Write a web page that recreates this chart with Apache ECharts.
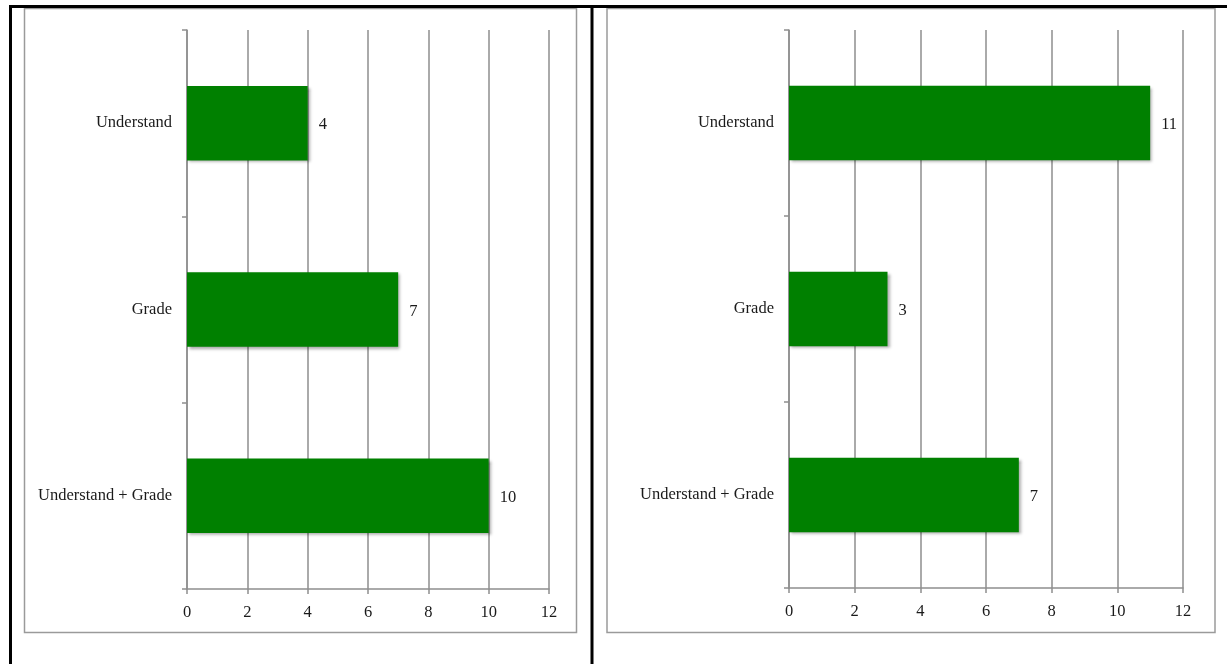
<!DOCTYPE html>
<html>
<head>
<meta charset="utf-8">
<script src="https://cdn.jsdelivr.net/npm/echarts@6/dist/echarts.min.js"></script>
<style>
  html, body { margin: 0; padding: 0; background: #fff; }
  #main { width: 1227px; height: 664px; }
</style>
</head>
<body>
<div id="main"></div>
<script>
// categories, top to bottom
var categories = ['Understand', 'Grade', 'Understand + Grade'];
var leftValues = [4, 7, 10];
var rightValues = [11, 3, 7];
var xTicks = { min: 0, max: 12, interval: 2 };

var chart = echarts.init(document.getElementById('main'));

var gray = '#8e8e8e';
var textColor = '#1a1a1a';
var font = '"Liberation Serif", serif';
var fontSize = 16.5;

function makeX(gridIndex) {
  return {
    type: 'value',
    gridIndex: gridIndex,
    min: xTicks.min,
    max: xTicks.max,
    interval: xTicks.interval,
    axisLine: { show: true, lineStyle: { color: gray, width: 1.5 } },
    axisTick: { show: true, length: 5, lineStyle: { color: gray, width: 1.5 } },
    axisLabel: { color: textColor, fontFamily: font, fontSize: fontSize, margin: 15 },
    splitLine: { show: true, lineStyle: { color: gray, width: 1.5 } }
  };
}

function makeY(gridIndex) {
  return {
    type: 'category',
    gridIndex: gridIndex,
    data: categories,
    inverse: true,
    axisLine: { show: true, lineStyle: { color: gray, width: 1.5 } },
    axisTick: { show: true, length: 5, lineStyle: { color: gray, width: 1.5 } },
    axisLabel: {
      color: textColor, fontFamily: font, fontSize: fontSize, margin: 15,
      padding: [6, 0, 0, 0]
    }
  };
}

function makeSeries(idx, values) {
  return {
    type: 'bar',
    xAxisIndex: idx,
    yAxisIndex: idx,
    data: values,
    barCategoryGap: '60%',
    itemStyle: {
      color: '#008000',
      shadowColor: 'rgba(0,0,0,0.35)',
      shadowBlur: 3,
      shadowOffsetX: 2,
      shadowOffsetY: 2
    },
    label: {
      show: true,
      position: 'right',
      distance: 11,
      offset: [0, 2],
      color: textColor,
      fontFamily: font,
      fontSize: fontSize
    }
  };
}

var option = {
  animation: false,
  backgroundColor: '#fff',
  grid: [
    { left: 187, top: 30, width: 362, height: 559 },
    { left: 789, top: 30, width: 394, height: 558 }
  ],
  xAxis: [makeX(0), makeX(1)],
  yAxis: [makeY(0), makeY(1)],
  series: [makeSeries(0, leftValues), makeSeries(1, rightValues)],
  graphic: [
    // panel boxes
    { type: 'rect', shape: { x: 24.5, y: 8.5, width: 552, height: 624 }, style: { fill: 'none', stroke: '#9a9a9a', lineWidth: 1.5 }, z: -1 },
    { type: 'rect', shape: { x: 607, y: 8.5, width: 608, height: 624 }, style: { fill: 'none', stroke: '#9a9a9a', lineWidth: 1.5 }, z: -1 },
    // outer table lines
    { type: 'line', shape: { x1: 9, y1: 6.5, x2: 1227, y2: 6.5 }, style: { stroke: '#000', lineWidth: 3 } },
    { type: 'line', shape: { x1: 10.5, y1: 5, x2: 10.5, y2: 664 }, style: { stroke: '#000', lineWidth: 3 } },
    { type: 'line', shape: { x1: 592, y1: 5, x2: 592, y2: 664 }, style: { stroke: '#000', lineWidth: 3 } }
  ]
};

chart.setOption(option);
</script>
</body>
</html>
